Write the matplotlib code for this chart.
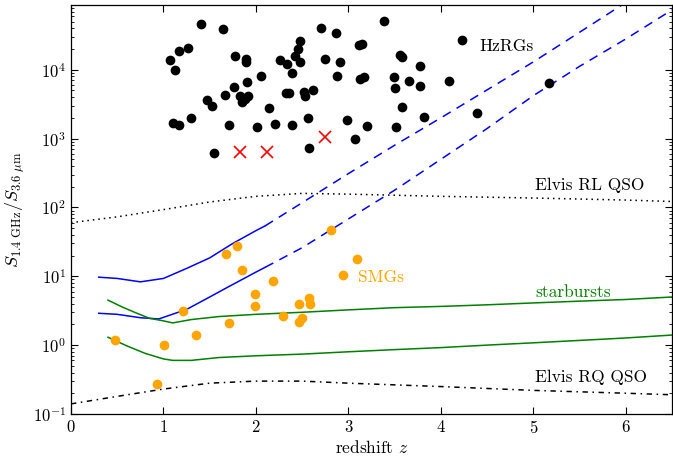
import numpy as np
import matplotlib
matplotlib.use("Agg")
import matplotlib.pyplot as plt
from matplotlib.ticker import LogLocator, MultipleLocator

plt.rcParams['font.family'] = ['cmr10', 'DejaVu Serif']
plt.rcParams['mathtext.fontset'] = 'cm'
plt.rcParams['axes.formatter.use_mathtext'] = True
plt.rcParams['axes.unicode_minus'] = False

# --- HzRGs (black dots) ---
hzrg_z = [1.405, 1.645, 1.07, 1.17, 1.27, 1.126, 1.77, 1.89, 1.89, 2.05, 1.90, 1.76,
          1.67, 1.476, 1.53, 1.83, 1.91, 1.85, 1.88, 2.14, 2.26, 2.34, 2.39, 2.42,
          2.46, 2.48, 2.48, 2.33, 2.36, 2.52, 2.53, 2.62, 1.10, 1.17, 1.30, 1.71,
          2.01, 2.21, 2.39, 2.56, 1.55, 2.57, 2.70, 2.87, 2.75, 2.91, 2.88, 2.98,
          3.07, 3.13, 3.17, 3.11, 3.15, 3.20, 3.38, 3.56, 3.58, 3.78, 3.49, 3.50,
          3.66, 3.78, 4.09, 4.23, 3.58, 3.82, 4.39, 5.17, 3.52]
hzrg_ratio = [45900, 38500, 13800, 18900, 20400, 9900, 15800, 14100, 12900, 8100, 6600, 5560,
              4370, 3670, 2950, 4170, 4170, 3440, 3800, 2750, 13800, 12300, 9060, 15800,
              19800, 26300, 12800, 4570, 4570, 4680, 4170, 5010, 1700, 1580, 2000, 1550,
              1460, 1620, 1580, 1970, 617, 724, 40700, 34700, 14100, 12900, 8100, 1860,
              1000, 7240, 7760, 22900, 24000, 1510, 51300, 16600, 15500, 11200, 7940, 5370,
              6760, 5750, 6920, 26900, 2880, 2040, 2340, 6460, 1480]

# --- red crosses ---
cross_z = [1.83, 2.12, 2.75]
cross_ratio = [632, 632, 1070]

# --- SMGs (orange dots) ---
smg_z = [0.473, 1.007, 0.93, 1.215, 1.35, 1.674, 1.80, 1.85, 1.71, 1.99, 1.99, 2.19,
         2.29, 2.47, 2.57, 2.59, 2.47, 2.50, 2.81, 2.94, 3.09]
smg_ratio = [1.17, 1.02, 0.275, 3.1, 1.41, 21.3, 27.2, 12.5, 2.08, 5.56, 3.76, 8.5,
             2.67, 3.93, 4.8, 4.02, 2.18, 2.44, 46.4, 10.3, 18.0]

# --- Elvis RL QSO (dotted) ---
rl_z = [0, 0.5, 1.0, 1.5, 2.0, 2.5, 3.0, 4.0, 5.0, 6.0, 6.5]
rl_ratio = [60, 73, 93, 120, 145, 160, 156, 145, 137, 128, 122]

# --- Elvis RQ QSO (dash-dot) ---
rq_z = [0, 0.5, 1.0, 1.5, 2.0, 2.5, 3.0, 4.0, 5.0, 6.0, 6.5]
rq_ratio = [0.14, 0.18, 0.23, 0.28, 0.30, 0.30, 0.28, 0.25, 0.22, 0.20, 0.19]

# --- blue tracks: solid part and dashed extrapolation ---
blue1_z = [0.3, 0.5, 0.75, 1.0, 1.25, 1.5, 1.75, 2.0, 2.1]
blue1_ratio = [9.7, 9.3, 8.3, 9.3, 13, 18.5, 30, 46, 54]
blue1x_z = [2.1, 2.5, 3.0, 3.5, 4.0, 4.5, 5.0, 5.5, 6.0]
blue1x_ratio = [54, 117, 310, 800, 2000, 5100, 13000, 35000, 95000]

blue2_z = [0.3, 0.5, 0.75, 0.95, 1.25, 1.5, 1.7, 2.0, 2.1]
blue2_ratio = [2.9, 2.8, 2.5, 2.4, 3.3, 5.0, 7.0, 11.5, 13.5]
blue2x_z = [2.1, 2.5, 3.0, 3.5, 4.0, 4.5, 5.0, 5.5, 6.0, 6.5]
blue2x_ratio = [13.5, 26, 68, 178, 500, 1400, 4200, 11200, 28000, 74000]

# --- starburst tracks (green) ---
sb1_z = [0.4, 0.55, 0.7, 0.85, 1.0, 1.1, 1.3, 1.6, 2.0, 2.5, 3.0, 3.5, 4.0, 4.5, 5.0, 5.5, 6.0, 6.5]
sb1_ratio = [4.5, 3.6, 2.95, 2.45, 2.25, 2.1, 2.35, 2.6, 2.8, 3.0, 3.25, 3.5, 3.65, 3.85, 4.1, 4.35, 4.6, 5.0]
sb2_z = [0.4, 0.6, 0.8, 1.0, 1.1, 1.3, 1.6, 2.0, 2.5, 3.0, 3.5, 4.0, 4.5, 5.0, 5.5, 6.0, 6.5]
sb2_ratio = [1.3, 0.98, 0.76, 0.63, 0.60, 0.60, 0.66, 0.70, 0.74, 0.80, 0.86, 0.92, 1.0, 1.08, 1.17, 1.27, 1.40]

fig = plt.figure(figsize=(6.73, 4.62), dpi=100)
ax = fig.add_axes([0.1055, 0.104, 0.893, 0.885])

ax.plot(rl_z, rl_ratio, color='black', lw=1.1, linestyle=(0, (1, 2.6)))
ax.plot(rq_z, rq_ratio, color='black', lw=1.1, linestyle=(0, (3.5, 3, 1, 3)))

blue = '#0000ff'
ax.plot(blue1_z, blue1_ratio, color=blue, lw=1.1)
ax.plot(blue1x_z, blue1x_ratio, color=blue, lw=1.1, linestyle=(0, (6, 4.5)))
ax.plot(blue2_z, blue2_ratio, color=blue, lw=1.1)
ax.plot(blue2x_z, blue2x_ratio, color=blue, lw=1.1, linestyle=(0, (6, 4.5)))

green = '#008000'
ax.plot(sb1_z, sb1_ratio, color=green, lw=1.1)
ax.plot(sb2_z, sb2_ratio, color=green, lw=1.1)

ax.plot(hzrg_z, hzrg_ratio, 'o', color='black', ms=7, mec='none')
ax.plot(smg_z, smg_ratio, 'o', color='#ffa500', ms=7, mec='none')
ax.plot(cross_z, cross_ratio, 'x', color='red', ms=8, mew=1.2)

ax.set_yscale('log')
ax.set_xlim(0, 6.5)
ax.set_ylim(0.1, 8.7e4)

ax.xaxis.set_major_locator(MultipleLocator(1))
ax.yaxis.set_major_locator(LogLocator(base=10, numticks=20))
ax.yaxis.set_minor_locator(LogLocator(base=10, subs=np.arange(2, 10), numticks=20))
ax.tick_params(which='both', direction='in', top=True, right=True, labelsize=12)
ax.tick_params(which='major', length=5, width=0.8)
ax.tick_params(which='minor', length=2.5, width=0.6)
ax.tick_params(axis='x', which='minor', bottom=False, top=False)

ax.set_xlabel(r'redshift $z$', fontsize=12.5, labelpad=2)
ax.set_ylabel(r'$S_{1.4\ \mathrm{GHz}}/S_{3.6\ \mu\mathrm{m}}$', fontsize=13, labelpad=4)

ax.text(4.42, 2.17e4, 'HzRGs', fontsize=12.5, color='black', va='center')
ax.text(5.02, 210, 'Elvis RL QSO', fontsize=12.5, color='black', va='center')
ax.text(3.10, 9.5, 'SMGs', fontsize=12.5, color='#ffa500', va='center')
ax.text(5.02, 5.9, 'starbursts', fontsize=12.5, color=green, va='center')
ax.text(5.02, 0.34, 'Elvis RQ QSO', fontsize=12.5, color='black', va='center')

for s in ax.spines.values():
    s.set_linewidth(0.9)

fig.savefig('out.png', dpi=100)
